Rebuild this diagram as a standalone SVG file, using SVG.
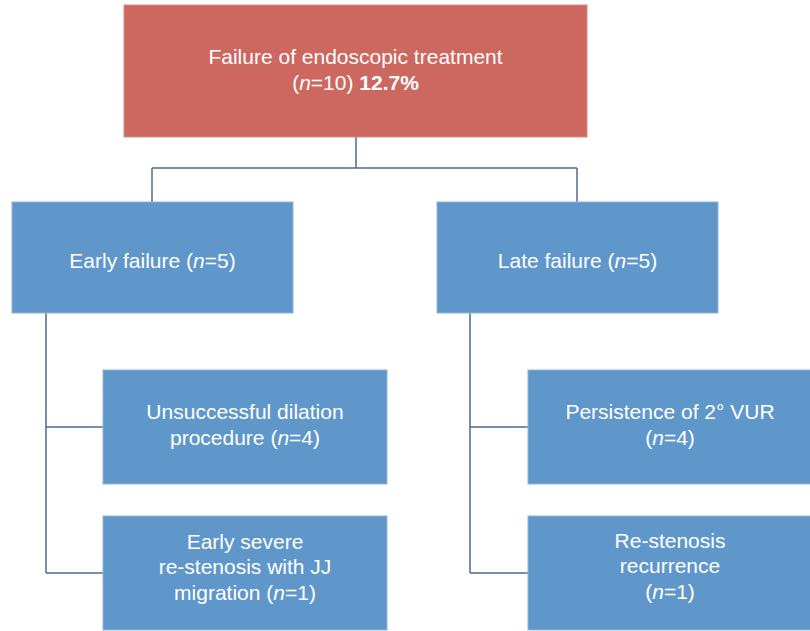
<svg xmlns="http://www.w3.org/2000/svg" width="810" height="631" viewBox="0 0 810 631">
<style>
.red{fill:#CD6860;stroke:#D98A84;stroke-width:1}
.blue{fill:#6097CB;stroke:#8DB3DC;stroke-width:1}
.t{font-family:"Liberation Sans",Arial,sans-serif;font-size:21px;fill:#FFFFFF;text-anchor:middle}
.c{fill:none;stroke:#4F6B94;stroke-width:1.5}
</style>
<rect width="810" height="631" fill="#FFFFFF"/>
<g id="connectors">
<path class="c" d="M356 137V168M152 168H577M152 168V202M577 168V202"/>
<path class="c" d="M46 313V573M46 427H103M46 573H103"/>
<path class="c" d="M470 313V573M470 427H528M470 573H528"/>
</g>
<g id="root">
<rect class="red" x="124" y="5" width="463" height="132"/>
<text class="t" x="355.5" y="64">Failure of endoscopic treatment</text>
<text class="t" x="355.5" y="90">(<tspan font-style="italic">n</tspan>=10) <tspan font-weight="bold">12.7%</tspan></text>
</g>
<g id="early">
<rect class="blue" x="12" y="202" width="281" height="111"/>
<text class="t" x="152.5" y="268">Early failure (<tspan font-style="italic">n</tspan>=5)</text>
</g>
<g id="late">
<rect class="blue" x="437" y="202" width="281" height="111"/>
<text class="t" x="577.5" y="268">Late failure (<tspan font-style="italic">n</tspan>=5)</text>
</g>
<g id="unsuccessful">
<rect class="blue" x="103" y="370" width="284" height="114"/>
<text class="t" x="245" y="419">Unsuccessful dilation</text>
<text class="t" x="245" y="445">procedure (<tspan font-style="italic">n</tspan>=4)</text>
</g>
<g id="early-severe">
<rect class="blue" x="103" y="516" width="284" height="114"/>
<text class="t" x="245" y="549">Early severe</text>
<text class="t" x="245" y="574">re-stenosis with JJ</text>
<text class="t" x="245" y="600">migration (<tspan font-style="italic">n</tspan>=1)</text>
</g>
<g id="persistence">
<rect class="blue" x="528" y="370" width="284" height="114"/>
<text class="t" x="670" y="419">Persistence of 2° VUR</text>
<text class="t" x="670" y="445">(<tspan font-style="italic">n</tspan>=4)</text>
</g>
<g id="restenosis">
<rect class="blue" x="528" y="516" width="284" height="114"/>
<text class="t" x="670" y="548">Re-stenosis</text>
<text class="t" x="670" y="573">recurrence</text>
<text class="t" x="670" y="599">(<tspan font-style="italic">n</tspan>=1)</text>
</g>
</svg>
